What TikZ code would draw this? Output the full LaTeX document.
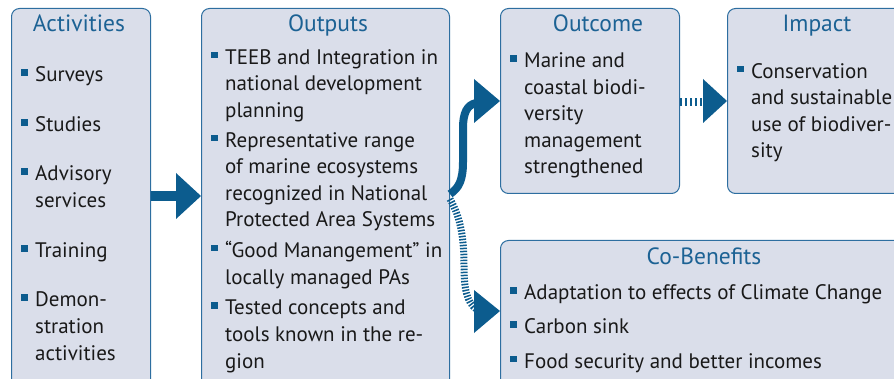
\documentclass[tikz,border=0pt]{standalone}
\usepackage{fontspec}
\setmainfont{PT Sans}
\usetikzlibrary{calc}
\definecolor{boxfill}{RGB}{218,222,234}
\definecolor{boxdraw}{RGB}{45,110,160}
\definecolor{ttlcol}{RGB}{28,98,148}
\definecolor{arr}{RGB}{12,92,142}
\definecolor{txt}{RGB}{25,25,25}
\newcommand{\bul}{\llap{\textcolor{arr}{\rule[6pt]{6.5pt}{6.5pt}}\hspace{7.5pt}}}
\tikzset{
  box/.style={draw=boxdraw, line width=1pt, fill=boxfill, rounded corners=8pt, anchor=north west, inner sep=0pt},
  ttl/.style={font=\fontsize{23.5}{28}\selectfont, text=ttlcol, anchor=base, inner sep=0pt},
  itm/.style={font=\fontsize{21}{26.6}\selectfont, text=txt, anchor=base west, align=left, inner sep=0pt},
  shaft/.style={draw=arr},
  hatch/.style={draw=arr, dash pattern=on 1.5pt off 1.5pt},
}
\begin{document}
\begin{tikzpicture}[x=1pt, y=-1pt]
\useasboundingbox (0,0) rectangle (894,379);
\clip (0,0) rectangle (894,379);
% boxes
\node[box, minimum width=139pt, minimum height=420pt] (act) at (11,8) {};
\node[box, minimum width=248pt, minimum height=420pt] (out) at (201,8) {};
\node[box, minimum width=179pt, minimum height=185pt] (outc) at (500,8) {};
\node[box, minimum width=200pt, minimum height=185pt] (imp) at (727,8) {};
\node[box, minimum width=420pt, minimum height=200pt] (cob) at (500,240) {};
% titles
\node[ttl] (tact) at (79,32) {Activities};
\node[ttl] (tout) at (328,32) {Outputs};
\node[ttl] (toutc) at (598,32) {Outcome};
\node[ttl] (timp) at (817,32) {Impact};
\node[ttl] (tcob) at (704,265) {Co-Benefits};
% activities (anchor = baseline of last line)
\node[itm] (a1) at (35,82) {\bul Surveys};
\node[itm] (a2) at (35,132) {\bul Studies};
\node[itm] (a3) at (35,207.5) {\bul Advisory\\services};
\node[itm] (a4) at (35,258) {\bul Training};
\node[itm] (a5) at (35,360) {\bul Demon-\\stration\\activities};
% outputs
\node[itm] (o1) at (225,117.5) {\bul TEEB and Integration in\\national development\\planning};
\node[itm] (o2) at (225,227) {\bul Representative range\\of marine ecosystems\\recognized in National\\Protected Area Systems};
\node[itm] (o3) at (225,284) {\bul “Good Manangement” in\\locally managed PAs};
\node[itm] (o4) at (225,368) {\bul Tested concepts and\\tools known in the re-\\gion};
% outcome
\node[itm] (c1) at (524,174) {\bul Marine and\\coastal biodi-\\versity\\management\\strengthened};
% impact
\node[itm] (i1) at (751,158) {\bul Conservation\\and sustainable\\use of biodiver-\\sity};
% co-benefits
\node[itm] (b1) at (524,300) {\bul Adaptation to effects of Climate Change};
\node[itm] (b2) at (524,334) {\bul Carbon sink};
\node[itm] (b3) at (524,368) {\bul Food security and better incomes};
% arrow activities -> outputs
\draw[shaft, line width=10pt] (act.east |- 0,196) -- (176,196);
\fill[arr] (176,173) -- (out.west |- 0,196) -- (176,219) -- cycle;
% arrow outputs -> outcome (curved)
\draw[shaft, line width=8pt] (out.east |- 0,194) .. controls (459,188) and (463,180) .. (463,162)
  -- (463,128) .. controls (463,113) and (467,105) .. (476,103);
\fill[arr] (474,79) -- (outc.west |- 0,101) -- (474,123) -- cycle;
% arrow outputs -> co-benefits (hatched curve)
\draw[hatch, line width=7pt] (out.east |- 0,199) .. controls (461,218) and (464,240) .. (464,265)
  .. controls (464,290) and (467,302) .. (476,309);
\fill[arr] (474,290) -- (cob.west |- 0,311) -- (474,333) -- cycle;
% arrow outcome -> impact (hatched)
\draw[draw=arr, line width=8pt, dash pattern=on 2pt off 3pt] (outc.east |- 0,102) -- (704,102);
\fill[arr] (703,79) -- (imp.west |- 0,101) -- (703,123) -- cycle;
\end{tikzpicture}
\end{document}
